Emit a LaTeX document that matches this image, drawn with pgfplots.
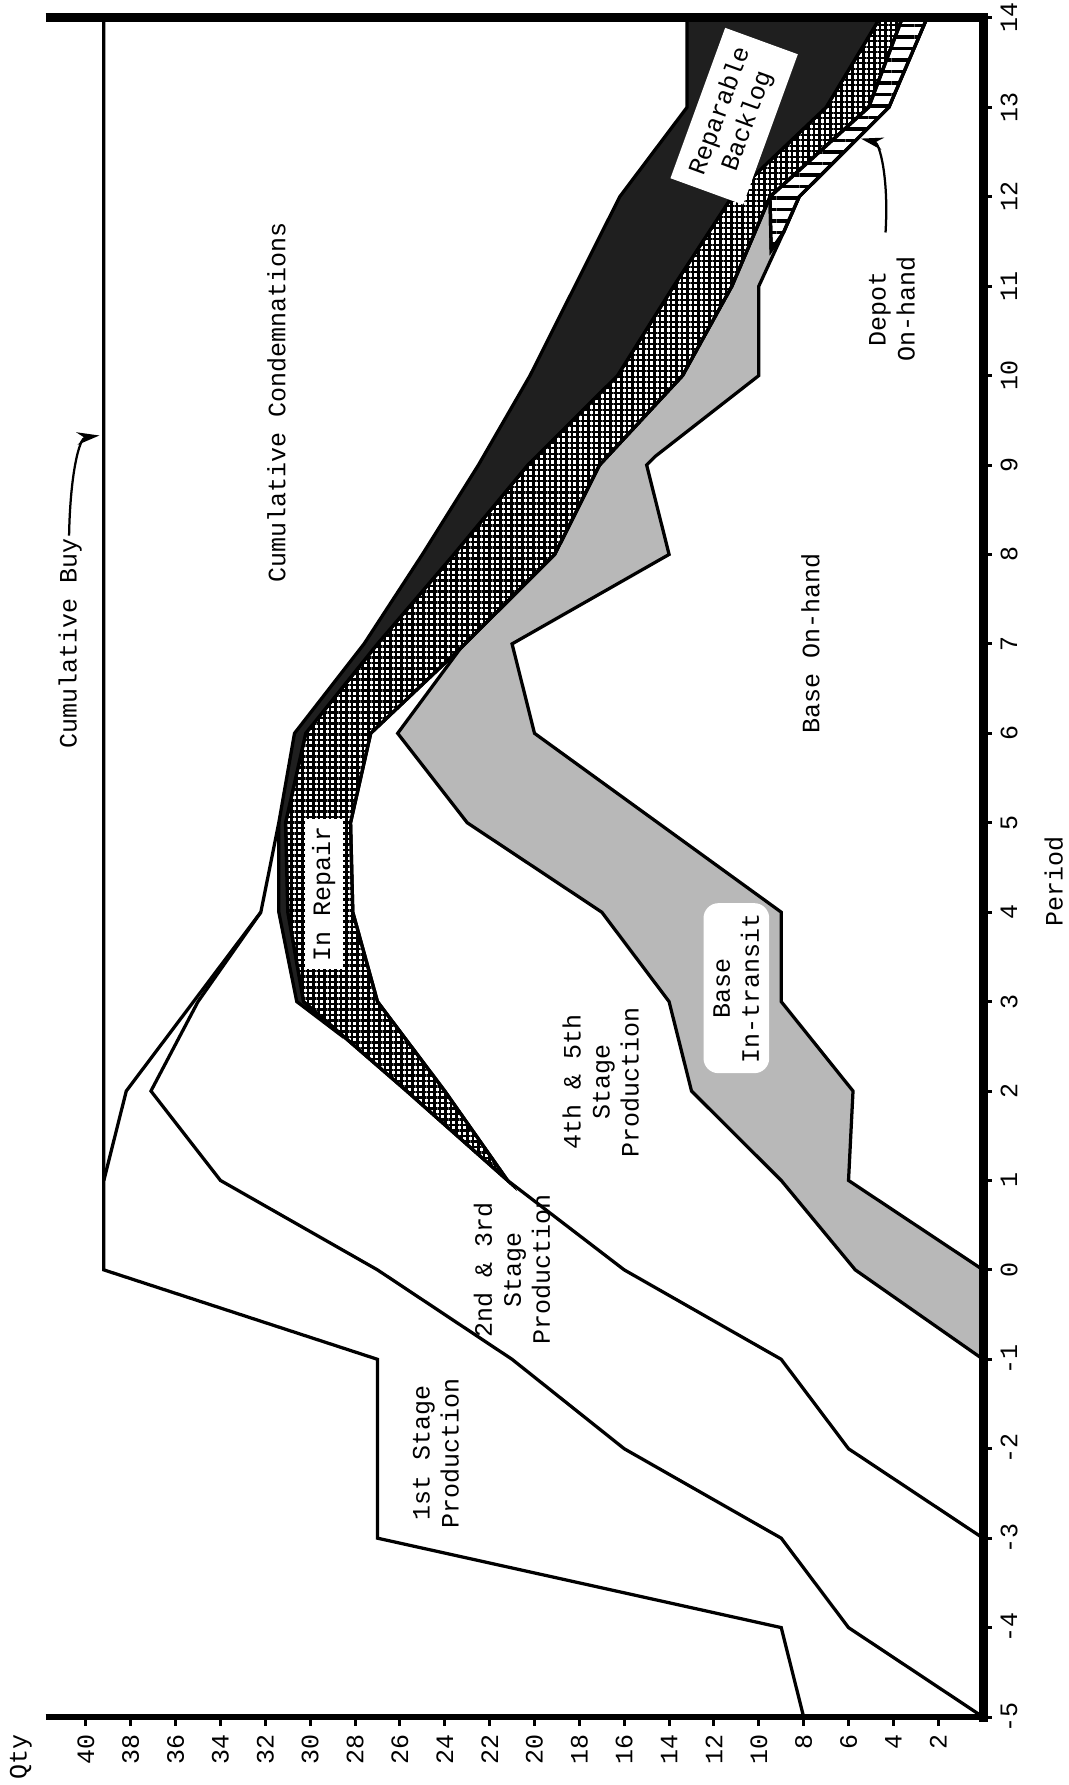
\documentclass[border=0pt]{standalone}
\usepackage{fontspec}
\setmainfont{Liberation Mono}
\usepackage{pgfplots}
\pgfplotsset{compat=1.18}
\usetikzlibrary{patterns,patterns.meta,arrows.meta}

\begin{document}
\begin{tikzpicture}[font=\fontsize{10}{11.6}\selectfont]
\begin{axis}[
  scale only axis, width=375pt, height=679.6pt,
  xmin=0, xmax=41.8, ymin=-5, ymax=14,
  x dir=reverse,
  clip=false,
  axis line style={draw=none},
  xtick={2,4,...,40},
  xticklabels={2,4,6,8,10,12,14,16,18,20,22,24,26,28,30,32,34,36,38,40},
  ytick={-5,-4,...,14},
  yticklabels={-5,-4,-3,-2,-1,0,1,2,3,4,5,6,7,8,9,10,11,12,13,14},
  xtick pos=left, ytick pos=right,
  tick align=outside,
  major tick length=3.5pt,
  tick style={black, line width=1.2pt},
  xticklabel style={rotate=90, anchor=east, font=\fontsize{10}{12}\selectfont},
  yticklabel style={rotate=90, anchor=north, font=\fontsize{10}{12}\selectfont},
]
% Base in-transit (stipple)
\addplot[draw=black, line width=1.3pt, fill=black!28] coordinates {
 (0,-1) (0,0) (6,1) (5.8,2) (9,3) (9,4) (20,6) (21,7) (14,8) (15,9) (14.6,9.1)
 (10,10) (10,11) (8.9,11.6) (8.2,12) (4.2,13) (2.5,14)
 (3.6,14) (5.1,13) (9.5,12) (11.2,11) (13.4,10) (17.1,9) (19.1,8) (23.3,6.95)
 (26.1,6) (23,5) (17,4) (14,3) (13,2) (9,1) (5.7,0) (0,-1)} -- cycle;
% In repair (crosshatch)
\addplot[draw=black, line width=1.3pt, fill=white,
  postaction={pattern={Hatch[angle=0, distance=2.2pt, line width=0.9pt]}}] coordinates {
 (21.2,1) (24,2) (27,3) (28.1,4) (28.2,5) (27.3,6) (23.3,6.95) (19.1,8) (17.1,9)
 (13.4,10) (11.2,11) (9.5,12) (5.1,13) (3.6,14)
 (4.6,14) (7.0,13) (11.2,12) (13.8,11) (16.3,10) (20.3,9) (23.6,8) (27.0,7)
 (30.2,6) (31.1,5) (31,4) (30.3,3) (25.7,2) (21.2,1)} -- cycle;
% Reparable backlog (dark)
\addplot[draw=black, line width=1.3pt, fill=black!88] coordinates {
 (28.5,2.6) (30.3,3) (31,4) (31.1,5) (30.2,6) (27.0,7) (23.6,8) (20.3,9) (16.3,10)
 (13.8,11) (11.2,12) (7.0,13) (4.6,14)
 (13.2,14) (13.2,13) (16.2,12) (18.2,11) (20.2,10) (22.5,9) (25,8) (27.6,7)
 (30.7,6) (31.4,5) (31.4,4) (30.6,3) (28.5,2.6)} -- cycle;
% Depot on-hand (hatched)
\addplot[draw=black, line width=1.3pt, fill=white,
  postaction={pattern={Lines[angle=0, distance=4.6pt, line width=1.4pt]}}] coordinates {
 (9.45,11.4) (8.9,11.6) (8.2,12) (4.2,13) (2.5,14) (3.6,14) (5.1,13) (9.5,12)} -- cycle;
% Cumulative buy / 1st stage top
\addplot[black, line width=1.3pt] coordinates {
 (8,-5) (9,-4) (27,-3) (27,-1) (39.2,0) (39.2,14)};
% Condemnations boundary
\addplot[black, line width=1.3pt] coordinates {
 (39.2,1) (38.2,2) (32.2,4) (31.4,5)};
% 1st / 2nd-3rd stage boundary
\addplot[black, line width=1.3pt] coordinates {
 (0,-5) (6,-4) (9,-3) (16,-2) (21,-1) (27,0) (34,1) (37.1,2) (35,3) (32.2,4)};
% 2nd-3rd / 4th-5th stage boundary
\addplot[black, line width=1.3pt] coordinates {
 (0,-3) (6,-2) (9,-1) (16,0) (21.2,1)};

% frame
\draw[line width=2.4pt] (axis cs:41.8,-5) -- (axis cs:0,-5);
\draw[line width=3.6pt, line join=miter] (axis cs:41.8,14) -- (axis cs:0,14) -- (axis cs:0,-5.05);

% labels
\node[rotate=90] at (axis cs:40.7,7.0) {Cumulative Buy};
\draw[line width=0.9pt, -{Stealth[length=9pt,width=5pt]}] (axis cs:40.75,8.21) .. controls (axis cs:40.7,8.9) and (axis cs:40.3,9.3) .. (axis cs:39.4,9.33);
\node[rotate=90] at (axis cs:31.5,9.7) {Cumulative Condemnations};
\node[rotate=90, align=center] at (axis cs:24.4,-2.05) {1st Stage\\Production};
\node[rotate=90, align=center] at (axis cs:21,0.0) {2nd \& 3rd\\Stage\\Production};
\node[rotate=90, align=center] at (axis cs:17.05,2.1) {4th \& 5th\\Stage\\Production};
\node[rotate=90, fill=white, inner sep=3pt] at (axis cs:29.4,4.2) {In Repair};
\node[rotate=90, align=center, fill=white, rounded corners=6pt, inner sep=4pt] at (axis cs:11,3.15) {Base\\In-transit};
\node[rotate=90] at (axis cs:7.7,7.0) {Base On-hand};
\node[rotate=70, align=center, fill=white, inner sep=5pt] at (axis cs:11.1,12.9) {Reparable\\Backlog};
\node[rotate=90, align=center] at (axis cs:4.06,10.74) {Depot\\On-hand};
\draw[line width=0.9pt, -{Stealth[length=9pt,width=5pt]}] (axis cs:4.35,11.6) .. controls (axis cs:4.2,12.2) and (axis cs:4.6,12.6) .. (axis cs:5.45,12.65);
\node[rotate=90] at (axis cs:-3.15,4.34) {Period};
\node[rotate=90] at (axis cs:42.9,-5.45) {Qty};

\coordinate (bbA) at (axis cs:43.83,-5.76);
\coordinate (bbB) at (axis cs:-3.79,14.2);
\end{axis}
\pgfresetboundingbox
\path (bbA) rectangle (bbB);
\end{tikzpicture}
\end{document}
